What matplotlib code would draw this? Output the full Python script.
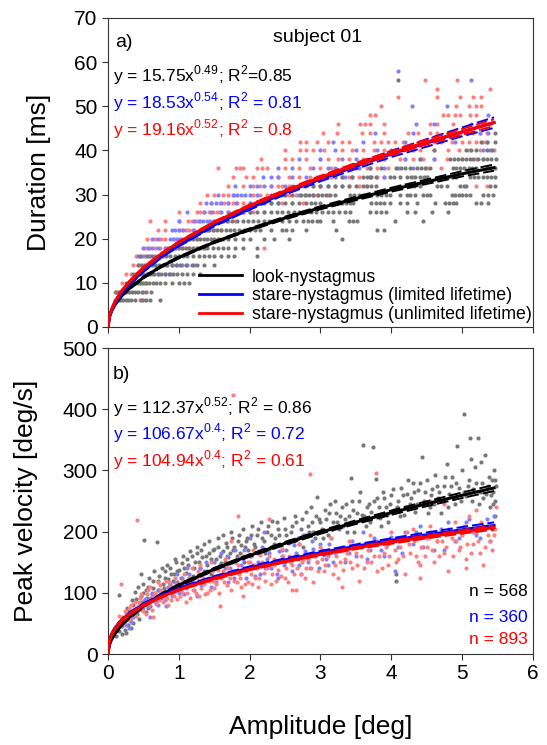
import numpy as np
import matplotlib
matplotlib.use("Agg")
import matplotlib.pyplot as plt

plt.rcParams["font.family"] = ["Liberation Sans", "DejaVu Sans"]

# =========================================================
# DATA
# =========================================================
# fitted power curves, read at these amplitudes [deg]
AMP_FIT = [0.0, 0.02, 0.05, 0.1, 0.2, 0.3, 0.5, 0.75, 1.0, 1.5, 2.0, 2.5, 3.0, 3.5, 4.0, 4.5, 5.0, 5.45]

DUR_FIT_LOOK = [0, 2.3, 3.6, 5.1, 7.2, 8.7, 11.2, 13.7, 15.75, 19.2, 22.1, 24.7, 27.0, 29.1, 31.1, 32.9, 34.7, 36.1]
DUR_FIT_LIM = [0, 2.2, 3.7, 5.3, 7.8, 9.7, 12.7, 15.9, 18.5, 23.1, 26.9, 30.4, 33.5, 36.4, 39.2, 41.7, 44.2, 46.3]
DUR_FIT_UNL = [0, 2.5, 4.0, 5.8, 8.3, 10.2, 13.4, 16.5, 19.2, 23.7, 27.5, 30.8, 33.9, 36.8, 39.4, 41.9, 44.2, 46.3]

DUR_CI_LOOK = [0, 0.1, 0.15, 0.2, 0.2, 0.2, 0.2, 0.2, 0.2, 0.2, 0.25, 0.3, 0.35, 0.4, 0.45, 0.5, 0.6, 0.7]
DUR_CI_LIM = [0, 0.15, 0.2, 0.25, 0.25, 0.25, 0.25, 0.25, 0.25, 0.3, 0.35, 0.4, 0.5, 0.6, 0.7, 0.85, 1.0, 1.2]
DUR_CI_UNL = [0, 0.1, 0.15, 0.2, 0.2, 0.2, 0.2, 0.2, 0.2, 0.2, 0.25, 0.3, 0.35, 0.4, 0.5, 0.55, 0.65, 0.75]

VEL_FIT_LOOK = [0, 14.7, 23.7, 33.9, 48.7, 60.1, 78.3, 96.8, 112.4, 138.8, 161.1, 180.9, 199.0, 215.5, 231.0, 245.6, 259.5, 271.4]
VEL_FIT_LIM = [0, 22.3, 32.2, 42.5, 56.0, 65.9, 80.8, 95.1, 106.7, 125.4, 140.8, 153.9, 165.5, 176.1, 185.7, 194.7, 203.1, 210.2]
VEL_FIT_UNL = [0, 21.9, 31.7, 41.8, 55.1, 64.9, 79.5, 93.5, 104.9, 123.4, 138.5, 151.4, 162.9, 173.3, 182.7, 191.5, 199.8, 206.7]

VEL_CI_LOOK = [0, 1, 1.5, 2, 2, 2, 2, 2, 2, 2, 2, 2.5, 2.5, 3, 3.5, 4, 4.5, 5]
VEL_CI_LIM = [0, 1, 1.5, 2, 2, 2, 2, 2, 2, 2, 2.5, 2.5, 3, 3, 3.5, 4, 4.5, 5]
VEL_CI_UNL = [0, 1, 1, 1.5, 1.5, 1.5, 1.5, 1.5, 1.5, 1.5, 1.5, 1.5, 2, 2, 2.5, 2.5, 3, 3.5]

# duration samples: duration [ms] -> amplitudes [deg]
DUR_LOOK = {
    6: [0.12, 0.15, 0.18, 0.21, 0.25, 0.28, 0.32, 0.38, 0.47, 0.5, 0.54, 0.6, 0.73],
    8: [0.12, 0.15, 0.18, 0.22, 0.26, 0.3, 0.34, 0.38, 0.43, 0.48, 0.53, 0.61],
    10: [0.25, 0.3, 0.34, 0.38, 0.42, 0.46, 0.5, 0.54, 0.58, 0.63, 0.68, 0.74, 0.8, 0.9, 1.0, 1.08, 1.15],
    12: [0.35, 0.4, 0.45, 0.5, 0.55, 0.6, 0.65, 0.7, 0.75, 0.8, 0.86, 0.92, 0.98, 1.05, 1.12, 1.2, 1.3],
    14: [0.42, 0.47, 0.52, 0.57, 0.62, 0.67, 0.72, 0.78, 0.84, 0.9, 0.96, 1.02, 1.1, 1.18, 1.25, 1.35, 1.5],
    16: [0.45, 0.55, 0.62, 0.7, 0.76, 0.82, 0.88, 0.94, 1.0, 1.06, 1.12, 1.2, 1.28, 1.35, 1.42, 1.5, 1.6, 1.7, 1.78, 2.1],
    18: [0.85, 0.9, 0.95, 1.0, 1.05, 1.1, 1.15, 1.2, 1.25, 1.3, 1.35, 1.4, 1.48, 1.55, 1.62, 1.7, 1.8, 1.9, 2.1],
    20: [1.1, 1.15, 1.2, 1.25, 1.3, 1.35, 1.4, 1.45, 1.5, 1.55, 1.62, 1.7, 1.8, 1.9, 2.0, 2.2, 2.35, 2.55, 3.3],
    22: [1.35, 1.42, 1.48, 1.54, 1.6, 1.66, 1.72, 1.78, 1.85, 1.92, 2.0, 2.08, 2.15, 2.3, 2.45, 2.52, 2.6, 2.8, 3.22, 3.8, 3.9],
    24: [1.5, 1.6, 1.68, 1.75, 1.82, 1.9, 1.98, 2.05, 2.12, 2.2, 2.28, 2.35, 2.45, 2.55, 2.65, 2.76, 2.82, 2.88, 2.95, 3.0,
         3.18, 3.4, 3.46, 3.52, 4.05, 4.45],
    26: [1.9, 2.0, 2.1, 2.2, 2.3, 2.38, 2.46, 2.54, 2.62, 2.7, 2.78, 2.86, 2.94, 3.02, 3.1, 3.18, 3.26, 3.34, 3.42, 3.7,
         3.78, 3.86, 3.93, 4.22, 4.33, 4.57, 4.8],
    28: [2.3, 2.4, 2.5, 2.6, 2.7, 2.8, 2.86, 2.92, 3.0, 3.24, 3.3, 3.36, 3.42, 3.46, 3.72, 3.78, 3.84, 3.9, 3.98, 4.12,
         4.22, 4.36, 4.62, 4.76, 4.82, 4.87, 4.92, 5.2, 5.27, 5.37],
    30: [2.5, 2.6, 2.72, 2.78, 2.84, 2.9, 2.96, 3.02, 3.08, 3.14, 3.2, 3.42, 3.48, 3.54, 3.6, 3.8, 3.86, 3.92, 3.98, 4.12,
         4.22, 4.27, 4.33, 4.45, 4.5, 4.55, 4.85, 4.9, 4.95, 5.0, 5.05, 5.11, 5.3, 5.36, 5.44],
    32: [2.9, 3.0, 3.1, 3.2, 3.3, 3.4, 3.5, 3.6, 3.66, 3.72, 3.79, 4.12, 4.26, 4.32, 4.4, 4.64, 4.7, 4.78, 4.97, 5.02,
         5.06, 5.39, 5.46],
    34: [3.3, 3.45, 3.6, 3.66, 3.72, 3.79, 3.98, 4.04, 4.12, 4.22, 4.28, 4.34, 4.4, 4.46, 4.5, 4.69, 4.75, 4.8, 4.86,
         4.92, 5.11, 5.17, 5.23, 5.3, 5.35, 5.41, 5.46],
    36: [3.7, 3.85, 4.07, 4.13, 4.2, 4.26, 4.36, 4.42, 4.48, 4.55, 4.87, 4.92, 4.97, 5.02, 5.09, 5.14, 5.2, 5.35, 5.4, 5.46],
    38: [4.4, 4.83, 4.88, 4.94, 5.0, 5.05, 5.11, 5.16, 5.22, 5.3, 5.35, 5.41, 5.48],
    40: [4.6, 5.06, 5.13, 5.2, 5.35, 5.42],
    42: [5.27, 5.35, 5.46],
    44: [5.46],
    56: [4.1],
}

DUR_LIM = {
    10: [0.3, 0.36],
    12: [0.55, 0.62, 0.7, 0.8, 0.88],
    14: [0.82, 0.9, 0.98, 1.05, 1.12, 1.22],
    16: [0.42, 0.5, 0.58, 0.66],
    18: [0.5, 0.56, 0.62, 0.7, 0.8],
    20: [0.62, 0.7, 0.87, 0.92, 0.97, 1.02, 1.1],
    22: [0.9, 0.95, 1.0, 1.06, 1.2, 1.3, 1.4],
    24: [1.0, 1.22, 1.28, 1.34, 1.4, 1.44, 1.55, 1.62],
    26: [1.11, 1.35, 1.45, 1.6, 1.7, 1.8, 1.9, 2.0],
    28: [1.39, 1.45, 1.52, 1.6, 1.7, 1.81, 2.0, 2.1, 2.2, 2.4],
    30: [1.55, 1.76, 1.82, 1.88, 1.94, 2.0, 2.1, 2.3, 2.5, 2.7, 2.9],
    32: [1.8, 2.0, 2.1, 2.2, 2.3, 2.5, 2.6, 2.8, 3.0, 3.1, 3.3],
    34: [2.19, 2.3, 2.4, 2.6, 2.8, 2.95, 3.05, 3.2, 3.35, 3.45, 3.7, 3.9],
    36: [2.4, 2.6, 2.9, 3.1, 3.2, 3.4, 3.55, 3.7, 3.9, 4.1, 4.3],
    38: [2.7, 3.0, 3.3, 3.5, 3.7, 3.9, 4.2, 4.4, 4.6, 5.3],
    40: [3.0, 3.2, 3.5, 3.8, 4.0, 4.3, 5.3, 5.4],
    42: [3.18, 3.6, 4.2, 4.9, 5.35],
    44: [3.77, 4.31, 5.25, 5.36],
    46: [4.35, 4.6],
    48: [5.37],
    50: [4.29, 4.78],
    56: [5.12],
    58: [4.1],
}

DUR_UNL = {
    6: [0.1, 0.45],
    8: [0.1, 0.14, 0.5],
    10: [0.2, 0.3, 0.38, 0.45, 0.52],
    12: [0.25, 0.32, 0.4, 0.48, 0.56],
    14: [0.35, 0.42, 0.5, 0.58, 0.66],
    16: [0.4, 0.46, 0.52, 0.6, 0.7, 0.78],
    18: [0.52, 0.58, 0.66, 0.74, 0.82, 0.9, 0.98, 1.06, 1.15, 1.25, 1.35, 2.2],
    20: [0.55, 0.66, 0.75, 0.8, 0.94, 1.05, 1.15, 1.25],
    22: [0.7, 0.8, 1.0, 1.05, 1.1, 1.15, 1.22, 1.3, 1.4, 1.5, 1.6],
    24: [0.6, 0.8, 1.0, 1.13, 1.18, 1.24, 1.3, 1.5, 1.6, 1.7, 1.8],
    26: [1.0, 1.25, 1.3, 1.36, 1.42, 1.48, 1.54, 1.58, 1.7, 1.8, 1.9, 2.05, 2.2],
    28: [1.3, 1.45, 1.58, 1.64, 1.7, 1.76, 1.82, 1.9, 2.0, 2.1, 2.2, 2.3, 2.45, 2.6, 2.75],
    30: [1.4, 1.5, 1.62, 1.7, 1.78, 2.05, 2.15, 2.25, 2.35, 2.45, 2.55, 2.65, 2.8, 2.95, 3.1],
    32: [1.7, 1.9, 2.05, 2.15, 2.3, 2.4, 2.45, 2.55, 2.7, 2.9, 3.0, 3.2, 3.4, 3.55, 3.64, 5.2, 5.35],
    34: [1.77, 1.95, 2.05, 2.4, 2.55, 2.7, 2.85, 3.0, 3.15, 3.3, 3.4, 3.55, 3.7, 3.8, 3.9, 4.3, 4.5],
    36: [1.55, 1.81, 1.86, 1.9, 2.1, 2.17, 2.24, 2.5, 2.7, 2.85, 3.0, 3.15, 3.3, 3.5, 3.65, 3.8, 3.95, 4.5, 4.7],
    38: [2.16, 2.5, 2.6, 2.8, 3.0, 3.1, 3.25, 3.4, 3.6, 3.75, 3.85, 4.12, 4.2, 4.3, 4.45, 4.6, 4.78, 5.0, 5.2],
    40: [2.5, 2.71, 2.8, 2.9, 3.05, 3.3, 3.45, 3.6, 3.75, 3.9, 4.05, 4.17, 4.4, 4.6, 4.8, 4.95, 5.1, 5.25, 5.45],
    42: [2.71, 2.8, 2.95, 3.1, 3.3, 3.4, 3.75, 3.85, 3.95, 4.05, 4.17, 4.5, 4.6, 4.7, 4.85, 5.0, 5.1, 5.2, 5.3],
    44: [3.04, 3.23, 3.58, 3.7, 3.89, 4.24, 4.38, 4.55, 4.64, 4.97, 5.05, 5.15, 5.25, 5.35],
    46: [3.25, 3.56, 3.63, 3.7, 3.89, 4.55, 4.64, 4.87, 5.13, 5.3, 5.4],
    48: [3.7, 3.77, 4.73, 4.8, 4.9, 4.97, 5.11, 5.2],
    50: [3.86, 4.92, 5.09, 5.2, 5.27],
    52: [4.1, 4.64, 4.97, 5.16, 5.27],
    54: [4.65, 5.39],
    56: [4.47, 4.93],
}

# peak velocity samples: (amplitude [deg], peak velocity [deg/s])
VEL_LOOK = [
    (0.12, 30), (0.15, 96), (0.15, 38), (0.18, 45), (0.2, 33), (0.22, 52), (0.24, 40), (0.26, 60), (0.28, 48),
    (0.3, 70), (0.31, 55), (0.33, 42), (0.35, 80), (0.37, 63), (0.4, 90), (0.42, 72), (0.44, 58), (0.46, 131),
    (0.48, 85), (0.5, 100), (0.51, 187), (0.53, 68), (0.55, 92), (0.57, 110), (0.6, 78), (0.62, 98), (0.64, 120),
    (0.66, 86), (0.69, 183), (0.7, 105), (0.72, 128), (0.75, 92), (0.78, 115), (0.8, 135), (0.82, 100), (0.85, 122),
    (0.88, 140), (0.9, 108), (0.93, 130), (0.96, 150), (0.98, 118), (1.0, 138), (1.03, 125), (1.06, 160), (1.1, 132),
    (1.13, 145), (1.16, 168), (1.2, 128), (1.23, 150), (1.26, 175), (1.3, 140), (1.33, 158), (1.36, 180), (1.4, 145),
    (1.43, 165), (1.46, 130), (1.5, 172), (1.53, 155), (1.56, 190), (1.6, 148), (1.63, 168), (1.66, 182), (1.7, 158),
    (1.73, 200), (1.76, 170), (1.8, 150), (1.83, 185), (1.86, 165), (1.9, 205), (1.93, 175), (1.96, 190), (2.0, 160),
    (2.03, 210), (2.06, 180), (2.1, 195), (2.13, 168), (2.16, 215), (2.2, 185), (2.24, 200), (2.28, 172), (2.32, 218),
    (2.36, 190), (2.4, 205), (2.44, 178), (2.48, 222), (2.52, 195), (2.56, 185), (2.6, 210), (2.64, 225), (2.68, 190),
    (2.72, 205), (2.76, 175), (2.8, 232), (2.84, 200), (2.88, 215), (2.92, 190), (2.95, 257), (2.98, 220), (3.02, 205),
    (3.06, 235), (3.1, 195), (3.14, 245), (3.18, 215), (3.22, 230), (3.26, 205), (3.3, 240), (3.34, 220), (3.38, 200),
    (3.43, 287), (3.46, 235), (3.5, 215), (3.54, 250), (3.58, 228), (3.6, 341), (3.64, 210), (3.68, 245), (3.72, 232),
    (3.74, 338), (3.78, 286), (3.8, 255), (3.84, 222), (3.88, 265), (3.92, 240), (3.96, 215), (4.0, 260), (4.04, 235),
    (4.06, 120), (4.07, 130), (4.1, 250), (4.14, 272), (4.18, 228), (4.22, 262), (4.26, 245), (4.3, 280), (4.34, 232),
    (4.38, 268), (4.43, 322), (4.46, 250), (4.5, 285), (4.54, 240), (4.58, 270), (4.62, 292), (4.66, 255), (4.7, 230),
    (4.74, 275), (4.78, 311), (4.82, 262), (4.86, 290), (4.9, 245), (4.93, 340), (4.96, 272), (5.0, 300), (5.03, 393),
    (5.06, 258), (5.1, 285), (5.12, 318), (5.11, 353), (5.15, 270), (5.18, 305), (5.22, 353), (5.24, 245), (5.26, 314),
    (5.28, 280), (5.32, 325), (5.34, 262), (5.38, 290), (5.4, 240), (5.42, 285), (5.44, 265), (5.46, 250), (5.48, 275),
    (5.47, 225), (5.45, 300),
    (0.2, 58), (0.25, 35), (0.27, 75), (0.32, 62), (0.34, 88), (0.36, 50), (0.38, 102), (0.41, 65), (0.43, 110),
    (0.45, 80), (0.47, 95), (0.49, 115), (0.52, 88), (0.54, 105), (0.56, 75), (0.58, 125), (0.61, 92), (0.63, 108),
    (0.65, 135), (0.67, 100), (0.71, 120), (0.73, 95), (0.76, 140), (0.79, 108), (0.81, 125), (0.84, 145), (0.87, 112),
    (0.89, 130), (0.92, 120), (0.94, 155), (0.97, 135), (1.01, 115), (1.04, 148), (1.08, 140), (1.11, 155), (1.14, 125),
    (1.18, 160), (1.21, 140), (1.25, 165), (1.28, 150), (1.32, 170), (1.35, 135), (1.38, 160), (1.42, 185), (1.45, 155),
    (1.48, 170), (1.52, 140), (1.55, 175), (1.58, 160), (1.62, 195), (1.65, 150), (1.68, 175), (1.72, 165), (1.75, 190),
    (1.78, 175), (1.82, 160), (1.85, 195), (1.88, 178), (1.92, 150), (1.95, 185), (1.98, 170), (2.02, 195), (2.08, 175),
    (2.12, 205), (2.18, 190), (2.22, 165), (2.26, 210), (2.3, 195), (2.34, 180), (2.38, 215), (2.42, 195), (2.46, 170),
    (2.5, 205), (2.58, 200), (2.62, 185), (2.66, 215), (2.7, 180), (2.74, 220), (2.78, 195), (2.82, 210), (2.86, 240),
    (2.9, 200), (2.94, 225), (3.0, 215), (3.04, 190), (3.08, 220), (3.12, 230), (3.16, 205), (3.2, 250), (3.24, 215),
    (3.28, 225), (3.32, 210), (3.36, 245), (3.4, 225), (3.44, 250), (3.48, 200), (3.52, 230), (3.56, 265), (3.62, 225),
    (3.66, 240), (3.7, 215), (3.76, 250), (3.82, 240), (3.86, 210), (3.9, 255), (3.94, 228), (3.98, 245), (4.02, 270),
    (4.08, 240), (4.12, 225), (4.16, 260), (4.2, 240), (4.24, 285), (4.28, 255), (4.32, 265), (4.36, 245), (4.4, 280),
    (4.48, 265), (4.52, 230), (4.56, 260), (4.6, 245), (4.64, 275), (4.68, 265), (4.72, 250), (4.76, 290), (4.8, 240),
    (4.84, 275), (4.88, 255), (4.92, 280), (4.98, 250), (5.02, 265), (5.08, 275), (5.14, 250), (5.2, 280), (5.25, 265),
    (5.3, 255), (5.36, 275), (5.41, 260), (5.44, 245), (5.47, 285),
]

VEL_LIM = [
    (0.25, 48), (0.3, 42), (0.35, 60), (0.4, 70), (0.5, 75), (0.55, 88), (0.6, 60), (0.65, 95), (0.7, 80), (0.75, 98),
    (0.8, 88), (0.85, 110), (0.9, 95), (0.95, 118), (1.0, 100), (1.05, 125), (1.1, 108), (1.15, 130), (1.2, 115),
    (1.25, 95), (1.3, 140), (1.35, 120), (1.4, 135), (1.45, 110), (1.5, 150), (1.55, 128), (1.6, 165), (1.65, 140),
    (1.7, 118), (1.75, 150), (1.8, 170), (1.85, 135), (1.9, 155), (1.95, 125), (2.0, 190), (2.05, 145), (2.1, 165),
    (2.15, 130), (2.2, 200), (2.25, 155), (2.3, 140), (2.35, 175), (2.4, 125), (2.45, 160), (2.5, 150), (2.55, 182),
    (2.6, 135), (2.65, 165), (2.7, 145), (2.75, 195), (2.8, 158), (2.85, 140), (2.9, 172), (2.95, 150), (3.0, 180),
    (3.05, 162), (3.1, 145), (3.15, 190), (3.2, 165), (3.3, 175), (3.35, 150), (3.45, 185), (3.5, 160), (3.6, 200),
    (3.7, 170), (3.8, 185), (3.9, 160), (4.0, 192), (4.05, 135), (4.1, 175), (4.2, 200), (4.3, 180), (4.4, 210),
    (4.5, 190), (4.6, 170), (4.7, 205), (4.8, 215), (4.9, 185), (5.0, 200), (5.1, 220), (5.2, 195), (5.3, 210),
    (5.4, 185), (5.45, 225),
    (0.2, 45), (0.28, 58), (0.33, 52), (0.38, 65), (0.45, 80), (0.48, 72), (0.52, 90), (0.58, 78), (0.62, 100),
    (0.68, 85), (0.72, 105), (0.78, 95), (0.82, 78), (0.88, 115), (0.92, 102), (0.98, 130), (1.02, 112), (1.08, 98),
    (1.12, 140), (1.18, 120), (1.22, 105), (1.28, 130), (1.32, 112), (1.38, 150), (1.42, 125), (1.48, 138), (1.52, 118),
    (1.58, 145), (1.62, 130), (1.68, 160), (1.72, 140), (1.78, 125), (1.82, 155), (1.88, 145), (1.92, 170), (1.98, 140),
    (2.02, 160), (2.08, 128), (2.12, 150), (2.18, 175), (2.22, 140), (2.28, 165), (2.32, 150), (2.38, 130), (2.42, 168),
    (2.48, 145), (2.52, 170), (2.58, 150), (2.62, 178), (2.68, 155), (2.72, 130), (2.78, 168), (2.82, 150), (2.88, 185),
    (2.92, 160), (2.98, 140), (3.02, 170), (3.08, 155), (3.12, 180), (3.18, 150), (3.25, 170), (3.4, 165), (3.55, 180),
    (3.65, 155), (3.75, 190), (3.85, 170), (3.95, 180), (4.15, 165), (4.25, 190), (4.35, 200), (4.45, 175), (4.55, 200),
    (4.65, 185), (4.75, 170), (4.85, 200), (4.95, 190), (5.05, 215), (5.15, 200), (5.25, 190), (5.35, 220), (5.42, 205),
]

VEL_UNL = [
    (0.1, 40), (0.15, 52), (0.18, 115), (0.2, 60), (0.25, 65), (0.28, 55), (0.3, 75), (0.35, 68), (0.38, 85),
    (0.41, 219), (0.42, 78), (0.45, 92), (0.5, 70), (0.55, 98), (0.58, 82), (0.6, 110), (0.63, 60), (0.65, 95),
    (0.7, 118), (0.72, 88), (0.75, 105), (0.8, 92), (0.82, 120), (0.85, 80), (0.88, 110), (0.9, 100), (0.95, 125),
    (0.98, 90), (1.0, 115), (1.05, 102), (1.08, 130), (1.1, 85), (1.15, 118), (1.18, 140), (1.2, 105), (1.25, 125),
    (1.28, 95), (1.3, 145), (1.35, 115), (1.38, 132), (1.4, 100), (1.45, 150), (1.48, 120), (1.5, 108), (1.55, 138),
    (1.58, 78), (1.6, 125), (1.65, 155), (1.68, 112), (1.7, 140), (1.73, 185), (1.76, 423), (1.78, 120), (1.8, 150),
    (1.83, 225), (1.85, 130), (1.88, 110), (1.9, 160), (1.95, 135), (1.98, 118), (2.0, 150), (2.05, 170), (2.08, 125),
    (2.1, 140), (2.12, 110), (2.15, 162), (2.2, 132), (2.25, 148), (2.28, 220), (2.3, 115), (2.35, 155), (2.4, 138),
    (2.45, 172), (2.5, 125), (2.55, 160), (2.6, 145), (2.65, 105), (2.7, 180), (2.72, 130), (2.76, 155), (2.8, 140),
    (2.85, 295), (2.88, 165), (2.9, 118), (2.95, 150), (3.0, 175), (3.05, 135), (3.1, 160), (3.15, 190), (3.2, 145),
    (3.25, 125), (3.3, 170), (3.35, 155), (3.4, 185), (3.45, 140), (3.5, 165), (3.55, 120), (3.6, 178), (3.65, 150),
    (3.7, 195), (3.75, 160), (3.78, 296), (3.8, 135), (3.85, 182), (3.9, 165), (3.95, 145), (4.0, 200), (4.05, 170),
    (4.1, 155), (4.15, 190), (4.2, 130), (4.25, 180), (4.3, 205), (4.35, 160), (4.4, 145), (4.45, 195), (4.5, 175),
    (4.55, 210), (4.6, 150), (4.65, 185), (4.7, 200), (4.75, 165), (4.8, 135), (4.85, 190), (4.9, 215), (4.95, 170),
    (5.0, 195), (5.05, 155), (5.1, 225), (5.15, 180), (5.2, 200), (5.25, 165), (5.3, 145), (5.35, 210), (5.4, 185),
    (5.45, 195), (5.48, 240), (5.2, 235), (4.55, 250), (4.75, 245),
    (0.12, 45), (0.16, 62), (0.22, 50), (0.24, 70), (0.3, 58), (0.32, 80), (0.36, 72), (0.4, 62), (0.44, 85),
    (0.47, 98), (0.52, 80), (0.54, 65), (0.57, 105), (0.6, 88), (0.62, 72), (0.66, 100), (0.68, 82), (0.71, 95),
    (0.74, 112), (0.77, 85), (0.79, 100), (0.83, 92), (0.86, 118), (0.89, 88), (0.91, 108), (0.93, 95), (0.96, 115),
    (1.02, 95), (1.06, 120), (1.12, 100), (1.14, 125), (1.16, 92), (1.22, 118), (1.24, 100), (1.27, 135), (1.32, 108),
    (1.34, 125), (1.37, 98), (1.42, 120), (1.44, 105), (1.47, 135), (1.52, 115), (1.54, 125), (1.57, 100), (1.62, 135),
    (1.64, 118), (1.67, 145), (1.72, 125), (1.74, 105), (1.77, 135), (1.82, 118), (1.84, 145), (1.87, 125), (1.92, 140),
    (1.94, 115), (1.97, 150), (2.02, 130), (2.04, 115), (2.07, 145), (2.13, 125), (2.17, 150), (2.22, 120), (2.24, 140),
    (2.27, 160), (2.32, 130), (2.34, 145), (2.37, 120), (2.42, 150), (2.44, 128), (2.47, 160), (2.52, 140), (2.54, 118),
    (2.57, 150), (2.62, 130), (2.64, 160), (2.67, 140), (2.74, 150), (2.78, 125), (2.82, 155), (2.86, 140), (2.92, 160),
    (2.97, 135), (3.02, 155), (3.07, 145), (3.12, 170), (3.17, 130), (3.22, 160), (3.27, 150), (3.32, 138), (3.37, 165),
    (3.42, 150), (3.47, 175), (3.52, 145), (3.57, 160), (3.62, 140), (3.67, 170), (3.72, 150), (3.82, 160), (3.87, 140),
    (3.92, 175), (3.97, 160), (4.02, 185), (4.07, 150), (4.12, 175), (4.17, 160), (4.22, 200), (4.27, 165), (4.32, 185),
    (4.37, 150), (4.42, 175), (4.47, 160), (4.52, 190), (4.57, 170), (4.62, 200), (4.67, 160), (4.72, 185), (4.77, 175),
    (4.82, 205), (4.87, 160), (4.92, 185), (4.97, 175), (5.02, 210), (5.07, 180), (5.12, 165), (5.17, 200), (5.22, 185),
    (5.27, 215), (5.32, 175), (5.37, 195), (5.42, 170), (5.46, 205), (5.05, 140), (4.4, 125), (3.3, 110), (2.6, 105),
    (1.9, 95),
]

LABELS = ["look-nystagmus", "stare-nystagmus (limited lifetime)", "stare-nystagmus (unlimited lifetime)"]
EQ_DUR = [r"y = 15.75x$^{\mathregular{0.49}}$; R$^{\mathregular{2}}$=0.85",
          r"y = 18.53x$^{\mathregular{0.54}}$; R$^{\mathregular{2}}$ = 0.81",
          r"y = 19.16x$^{\mathregular{0.52}}$; R$^{\mathregular{2}}$ = 0.8"]
EQ_VEL = [r"y = 112.37x$^{\mathregular{0.52}}$; R$^{\mathregular{2}}$ = 0.86",
          r"y = 106.67x$^{\mathregular{0.4}}$; R$^{\mathregular{2}}$ = 0.72",
          r"y = 104.94x$^{\mathregular{0.4}}$; R$^{\mathregular{2}}$ = 0.61"]
N_LABELS = ["n = 568", "n = 360", "n = 893"]

LINE_COLORS = ["#000000", "#0000ff", "#ff0000"]
DOT_COLORS = ["#787878", "#7f7fff", "#ff7f7f"]


def rows_to_xy(rows):
    x, y = [], []
    for d, amps in rows.items():
        x += amps
        y += [d] * len(amps)
    return x, y


def draw_fit(ax, fit, ci, color, z):
    a = np.array(AMP_FIT)
    f = np.array(fit)
    c = np.array(ci)
    ax.plot(a, f, color=color, lw=2.2, zorder=z)
    ax.plot(a, f + c, color=color, lw=1.4, ls=(0, (6, 2)), zorder=z)
    ax.plot(a, f - c, color=color, lw=1.4, ls=(0, (6, 2)), zorder=z)


def style_axes(ax):
    ax.set_xlim(0, 6)
    for s in ax.spines.values():
        s.set_linewidth(0.8)
        s.set_color("#333333")
    ax.tick_params(direction="out", length=4, width=0.8, labelsize=15,
                   top=False, right=False, color="#333333")


# =========================================================
# FIGURE
# =========================================================
fig = plt.figure(figsize=(5.47, 7.45), dpi=100)
ax1 = fig.add_axes([0.1974, 0.5611, 0.777, 0.4148])
ax2 = fig.add_axes([0.1974, 0.1221, 0.777, 0.4107])

# ---- panel a: duration ----
for rows, col, z in [(DUR_UNL, DOT_COLORS[2], 2), (DUR_LIM, DOT_COLORS[1], 3), (DUR_LOOK, DOT_COLORS[0], 4)]:
    x, y = rows_to_xy(rows)
    ax1.scatter(x, y, s=9, color=col, linewidths=0, zorder=z)

draw_fit(ax1, DUR_FIT_LOOK, DUR_CI_LOOK, LINE_COLORS[0], 5)
draw_fit(ax1, DUR_FIT_LIM, DUR_CI_LIM, LINE_COLORS[1], 6)
draw_fit(ax1, DUR_FIT_UNL, DUR_CI_UNL, LINE_COLORS[2], 7)

style_axes(ax1)
ax1.set_ylim(0, 70)
ax1.set_yticks(range(0, 71, 10))
ax1.set_xticks(range(0, 7))
ax1.tick_params(labelbottom=False)
ax1.set_ylabel("Duration [ms]", fontsize=19)
ax1.yaxis.set_label_coords(-0.135, 0.5)

ax1.text(0.016, 0.922, "a)", transform=ax1.transAxes, fontsize=14, va="center", ha="left")
ax1.text(0.494, 0.938, "subject 01", transform=ax1.transAxes, fontsize=14, va="center", ha="center")
for i, (eq, y) in enumerate(zip(EQ_DUR, [0.816, 0.727, 0.641])):
    ax1.text(0.011, y, eq, transform=ax1.transAxes, fontsize=12.5, va="center", ha="left",
             color=LINE_COLORS[i])

handles = [plt.Line2D([], [], color=c, lw=2) for c in LINE_COLORS]
ax1.legend(handles, LABELS, loc="lower left", bbox_to_anchor=(0.215, 0.012), frameon=False,
           fontsize=12.8, handlelength=2.4, handletextpad=0.55, labelspacing=0.1,
           borderpad=0, borderaxespad=0)

# ---- panel b: peak velocity ----
for pts, col, z in [(VEL_LOOK, DOT_COLORS[0], 2), (VEL_LIM, DOT_COLORS[1], 3), (VEL_UNL, DOT_COLORS[2], 4)]:
    arr = np.array(pts)
    ax2.scatter(arr[:, 0], arr[:, 1], s=9, color=col, linewidths=0, zorder=z)

draw_fit(ax2, VEL_FIT_LOOK, VEL_CI_LOOK, LINE_COLORS[0], 5)
draw_fit(ax2, VEL_FIT_LIM, VEL_CI_LIM, LINE_COLORS[1], 6)
draw_fit(ax2, VEL_FIT_UNL, VEL_CI_UNL, LINE_COLORS[2], 7)

style_axes(ax2)
ax2.set_ylim(0, 500)
ax2.set_yticks(range(0, 501, 100))
ax2.set_xticks(range(0, 7))
ax2.set_ylabel("Peak velocity [deg/s]", fontsize=19)
ax2.yaxis.set_label_coords(-0.165, 0.5)
ax2.set_xlabel("Amplitude [deg]", fontsize=19)
ax2.xaxis.set_label_coords(0.5, -0.2)

ax2.text(0.012, 0.912, "b)", transform=ax2.transAxes, fontsize=14, va="center", ha="left")
for i, (eq, y) in enumerate(zip(EQ_VEL, [0.807, 0.722, 0.634])):
    ax2.text(0.011, y, eq, transform=ax2.transAxes, fontsize=12.5, va="center", ha="left",
             color=LINE_COLORS[i])
for i, (lab, y) in enumerate(zip(N_LABELS, [0.203, 0.121, 0.046])):
    ax2.text(0.988, y, lab, transform=ax2.transAxes, fontsize=12.5, va="center", ha="right",
             color=LINE_COLORS[i])

fig.savefig("out.png", dpi=100, facecolor="white")
